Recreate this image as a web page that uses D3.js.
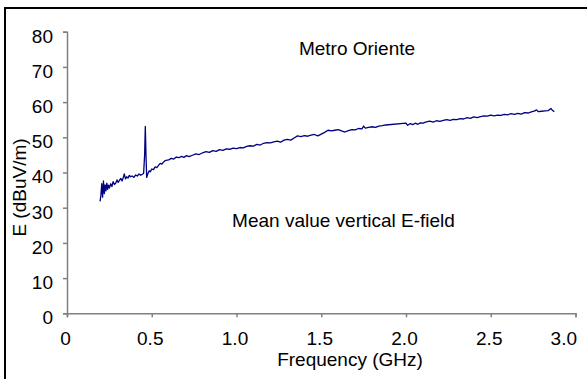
<!DOCTYPE html>
<html>
<head>
<meta charset="utf-8">
<script src="https://cdn.jsdelivr.net/npm/d3@7"></script>
<style>
	body { margin: 0; background: #fff; }
	text { font-family: Arial, "Liberation Sans", sans-serif; fill: #000; }
</style>
</head>
<body>
<div id="chart"></div>
<script>

var freqGHz = [
	0.195, 0.200, 0.205, 0.210, 0.215, 0.220, 0.225, 0.230, 0.235, 0.240,
	0.245, 0.250, 0.258, 0.265, 0.272, 0.280, 0.288, 0.295, 0.302, 0.310,
	0.318, 0.325, 0.332, 0.338, 0.345, 0.352, 0.360, 0.368, 0.375, 0.385,
	0.395, 0.405, 0.415, 0.425, 0.435, 0.445, 0.452, 0.458, 0.462, 0.466,
	0.470, 0.478, 0.485, 0.492, 0.500, 0.510, 0.520, 0.530, 0.540, 0.550,
	0.560, 0.570, 0.580, 0.590, 0.600, 0.615, 0.630, 0.645, 0.660, 0.675,
	0.690, 0.705, 0.720, 0.740, 0.760, 0.780, 0.800, 0.820, 0.840, 0.860,
	0.880, 0.900, 0.920, 0.940, 0.960, 0.980, 1.000, 1.020, 1.040, 1.060,
	1.080, 1.100, 1.120, 1.140, 1.160, 1.180, 1.200, 1.220, 1.240, 1.260,
	1.280, 1.300, 1.320, 1.340, 1.360, 1.380, 1.400, 1.420, 1.440, 1.460,
	1.480, 1.500, 1.520, 1.540, 1.560, 1.580, 1.600, 1.620, 1.640, 1.660,
	1.680, 1.700, 1.720, 1.740, 1.750, 1.760, 1.780, 1.800, 1.820, 1.840,
	1.860, 1.880, 2.000, 2.010, 2.025, 2.040, 2.055, 2.070, 2.085, 2.100,
	2.120, 2.140, 2.160, 2.180, 2.200, 2.220, 2.240, 2.260, 2.280, 2.300,
	2.320, 2.340, 2.360, 2.380, 2.400, 2.420, 2.440, 2.460, 2.480, 2.500,
	2.520, 2.540, 2.560, 2.580, 2.600, 2.620, 2.640, 2.660, 2.680, 2.700,
	2.720, 2.740, 2.760, 2.770, 2.780, 2.800, 2.820, 2.840, 2.855, 2.865,
	2.875
];

var eField = [
	31.8, 33.5, 36.8, 33.0, 37.6, 34.0, 36.5, 34.8, 37.0, 35.2,
	36.4, 35.6, 36.8, 36.0, 37.4, 36.6, 37.0, 37.9, 37.2, 37.8,
	38.3, 37.6, 38.6, 39.6, 38.2, 38.8, 38.4, 39.2, 38.8, 39.0,
	38.6, 39.3, 39.0, 39.6, 39.2, 39.5, 39.8, 45.0, 53.1, 45.0,
	38.6, 39.8, 40.5, 40.2, 41.0, 40.8, 41.6, 41.4, 42.0, 42.6,
	42.4, 43.0, 43.4, 43.5, 43.6, 44.0, 43.8, 44.4, 44.2, 44.6,
	44.3, 44.8, 44.5, 44.9, 45.3, 45.1, 45.6, 45.9, 45.7, 46.2,
	46.0, 46.5, 46.3, 46.7, 46.6, 46.9, 46.8, 47.1, 47.0, 47.4,
	47.6, 47.5, 48.0, 47.8, 48.3, 48.5, 48.4, 48.7, 48.9, 48.6,
	49.2, 49.4, 49.2, 49.8, 50.4, 50.2, 50.5, 50.3, 50.6, 50.8,
	50.4, 50.9, 51.4, 52.0, 51.8, 52.0, 52.2, 51.8, 51.5, 51.9,
	52.2, 52.1, 52.5, 52.4, 53.2, 52.6, 52.8, 53.0, 52.8, 53.2,
	53.3, 53.5, 54.0, 53.4, 53.9, 53.6, 54.0, 53.7, 54.1, 54.0,
	54.4, 54.6, 54.3, 54.7, 54.5, 54.8, 55.0, 54.8, 55.1, 55.0,
	55.3, 55.2, 55.6, 55.4, 55.8, 55.6, 55.9, 56.1, 56.0, 56.3,
	56.1, 56.3, 56.2, 56.5, 56.4, 56.7, 56.5, 56.8, 56.6, 57.0,
	56.9, 57.2, 57.5, 57.8, 57.3, 57.4, 57.5, 57.6, 58.2, 57.6,
	57.3
];

var xTicks = [0, 0.5, 1.0, 1.5, 2.0, 2.5, 3.0];
var yTicks = [0, 10, 20, 30, 40, 50, 60, 70, 80];

var width = 587, height = 379;

var svg = d3.select('#chart').append('svg')
	.attr('width', width)
	.attr('height', height);

// Chart area frame (only top and left edges show)
svg.append('path')
	.attr('d', 'M5,379V8H587')
	.attr('fill', 'none')
	.attr('stroke', '#000')
	.attr('stroke-width', 2);

var x = d3.scaleLinear().domain([0, 3]).range([67, 575.5]);
var y = d3.scaleLinear().domain([0, 80]).range([313.3, 31.7]);

// X axis
var xAxis = svg.append('g')
	.attr('transform', 'translate(0,' + y(0) + ')')
	.call(d3.axisBottom(x)
		.tickValues(xTicks)
		.tickSize(4)
		.tickPadding(14)
		.tickFormat((d) => d === 0 ? '0' : d3.format('.1f')(d)));

// Y axis
var yAxis = svg.append('g')
	.attr('transform', 'translate(' + x(0) + ',0)')
	.call(d3.axisLeft(y)
		.tickValues(yTicks)
		.tickSize(4)
		.tickPadding(10)
		.tickFormat(d3.format('d')));

[xAxis, yAxis].forEach(function(g) {
	g.select('.domain').attr('stroke', '#808080').attr('stroke-width', 1.5);
	g.selectAll('.tick line').attr('stroke', '#808080').attr('stroke-width', 1.5);
	g.selectAll('.tick text')
		.attr('fill', '#000')
		.style('font-size', '19px')
		.style('font-family', 'Arial, "Liberation Sans", sans-serif');
});

yAxis.selectAll('.tick text').attr('dy', '0.55em');

// Labels sit a touch left of ticks; last one is pulled inside the plot edge
xAxis.selectAll('.tick text').attr('dx', -2);
xAxis.selectAll('.tick text')
	.filter((d) => d === 3)
	.attr('text-anchor', 'end')
	.attr('dx', 1);

// Data line
var line = d3.line()
	.x((d) => x(d[0]))
	.y((d) => y(d[1]));

svg.append('path')
	.datum(d3.zip(freqGHz, eField))
	.attr('d', line)
	.attr('fill', 'none')
	.attr('stroke', '#000080')
	.attr('stroke-width', 1.3)
	.attr('stroke-linejoin', 'round');

// Titles and notes
svg.append('text')
	.attr('x', 350)
	.attr('y', 365.5)
	.attr('text-anchor', 'middle')
	.style('font-size', '19px')
	.text('Frequency (GHz)');

svg.append('text')
	.attr('transform', 'translate(26,187.5) rotate(-90)')
	.attr('text-anchor', 'middle')
	.style('font-size', '19px')
	.text('E (dBuV/m)');

svg.append('text')
	.attr('x', 357)
	.attr('y', 55)
	.attr('text-anchor', 'middle')
	.style('font-size', '19px')
	.text('Metro Oriente');

svg.append('text')
	.attr('x', 343.5)
	.attr('y', 227.3)
	.attr('text-anchor', 'middle')
	.style('font-size', '19px')
	.text('Mean value vertical E-field');

</script>
</body>
</html>
